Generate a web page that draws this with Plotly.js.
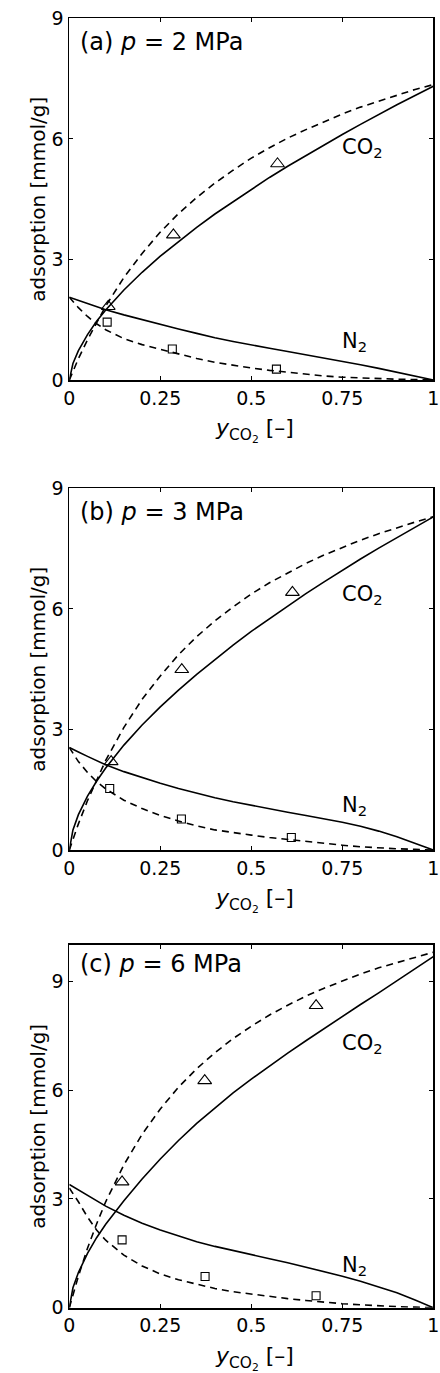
<!DOCTYPE html>
<html>
<head>
<meta charset="utf-8">
<script src="https://cdn.plot.ly/plotly-3.0.1.min.js"></script>
<style>html,body{margin:0;padding:0;background:#fff;}#chart{width:440px;height:1373px;}</style>
</head>
<body>
<div id="chart"></div>
<script>
// CO2 mole fraction grid for model curves
const yCO2 = [0, 0.01, 0.025, 0.05, 0.075, 0.1, 0.15, 0.2, 0.25, 0.3, 0.35, 0.4, 0.45, 0.5, 0.55, 0.6, 0.65, 0.7, 0.75, 0.8, 0.85, 0.9, 0.95, 1];

// Panel (a) p = 2 MPa
const co2SolidA = [0, 0.41, 0.73, 1.13, 1.46, 1.74, 2.24, 2.68, 3.08, 3.45, 3.80, 4.13, 4.44, 4.75, 5.04, 5.32, 5.59, 5.85, 6.11, 6.36, 6.61, 6.85, 7.08, 7.31];
const co2DashA  = [0, 0.22, 0.53, 1.00, 1.44, 1.84, 2.55, 3.15, 3.68, 4.14, 4.54, 4.90, 5.22, 5.52, 5.78, 6.02, 6.23, 6.43, 6.62, 6.79, 6.94, 7.09, 7.23, 7.35];
const n2SolidA  = [2.06, 2.03, 1.98, 1.90, 1.82, 1.75, 1.62, 1.50, 1.38, 1.27, 1.16, 1.05, 0.96, 0.87, 0.79, 0.71, 0.63, 0.55, 0.47, 0.38, 0.29, 0.195, 0.10, 0];
const n2DashA   = [2.06, 1.95, 1.80, 1.58, 1.40, 1.25, 1.03, 0.88, 0.76, 0.64, 0.535, 0.44, 0.365, 0.30, 0.24, 0.19, 0.145, 0.10, 0.07, 0.05, 0.035, 0.02, 0.01, 0];
const expCO2xA = [0.107, 0.286, 0.572], expCO2yA = [1.83, 3.61, 5.38];
const expN2xA  = [0.104, 0.283, 0.569], expN2yA  = [1.44, 0.77, 0.27];

// Panel (b) p = 3 MPa
const co2SolidB = [0, 0.50, 0.88, 1.34, 1.71, 2.04, 2.61, 3.11, 3.56, 3.98, 4.37, 4.74, 5.10, 5.44, 5.76, 6.07, 6.38, 6.67, 6.96, 7.24, 7.51, 7.77, 8.04, 8.29];
const co2DashB  = [0, 0.27, 0.65, 1.23, 1.75, 2.23, 3.05, 3.75, 4.33, 4.86, 5.31, 5.70, 6.05, 6.37, 6.65, 6.90, 7.13, 7.34, 7.53, 7.71, 7.87, 8.02, 8.16, 8.29];
const n2SolidB  = [2.55, 2.50, 2.44, 2.33, 2.22, 2.12, 1.95, 1.80, 1.66, 1.53, 1.41, 1.30, 1.20, 1.11, 1.02, 0.94, 0.86, 0.78, 0.69, 0.59, 0.47, 0.33, 0.17, 0];
const n2DashB   = [2.55, 2.40, 2.20, 1.93, 1.70, 1.52, 1.24, 1.03, 0.86, 0.72, 0.60, 0.50, 0.43, 0.37, 0.31, 0.26, 0.21, 0.16, 0.12, 0.08, 0.05, 0.03, 0.015, 0];
const expCO2xB = [0.115, 0.309, 0.613], expCO2yB = [2.20, 4.49, 6.41];
const expN2xB  = [0.111, 0.308, 0.610], expN2yB  = [1.53, 0.77, 0.31];

// Panel (c) p = 6 MPa
const co2SolidC = [0, 0.55, 0.97, 1.50, 1.93, 2.30, 2.95, 3.55, 4.10, 4.61, 5.08, 5.51, 5.92, 6.30, 6.67, 7.02, 7.36, 7.70, 8.03, 8.36, 8.68, 9.01, 9.35, 9.68];
const co2DashC  = [0, 0.36, 0.87, 1.64, 2.31, 2.92, 3.94, 4.78, 5.48, 6.08, 6.59, 7.03, 7.42, 7.76, 8.07, 8.34, 8.59, 8.81, 9.01, 9.20, 9.37, 9.52, 9.67, 9.80];
const n2SolidC  = [3.40, 3.34, 3.24, 3.08, 2.94, 2.80, 2.55, 2.33, 2.14, 1.97, 1.82, 1.69, 1.57, 1.46, 1.35, 1.24, 1.12, 1.00, 0.87, 0.73, 0.58, 0.41, 0.21, 0];
const n2DashC   = [3.30, 3.15, 2.92, 2.50, 2.14, 1.86, 1.45, 1.15, 0.93, 0.77, 0.64, 0.53, 0.44, 0.37, 0.30, 0.25, 0.20, 0.15, 0.11, 0.08, 0.05, 0.03, 0.015, 0];
const expCO2xC = [0.145, 0.372, 0.678], expCO2yC = [3.47, 6.26, 8.33];
const expN2xC  = [0.145, 0.373, 0.678], expN2yC  = [1.87, 0.86, 0.33];

// Tick labels and panel texts
const xTickVals = [0, 0.25, 0.5, 0.75, 1];
const xTickText = ['0', '0.25', '0.5', '0.75', '1'];
const yTickVals = [0, 3, 6, 9];
const yTickText = ['0', '3', '6', '9'];
const panelTags = ['(a)', '(b)', '(c)'];
const pressures = ['2', '3', '6'];
const yMax = [9, 9, 10];

const FONT = 'DejaVu Sans, Liberation Sans, Arial, sans-serif';
const W = 440, H = 1373;
const plotLeft = 69.3, plotRight = 433.3;
const panelTop = [18.3, 488.3, 945];
const panelBottom = [380, 850, 1307.7];

const panels = [
  {cs: co2SolidA, cd: co2DashA, ns: n2SolidA, nd: n2DashA, tx: expCO2xA, ty: expCO2yA, sx: expN2xA, sy: expN2yA, co2LabY: 5.77, n2LabY: 0.95, titleY: 8.42},
  {cs: co2SolidB, cd: co2DashB, ns: n2SolidB, nd: n2DashB, tx: expCO2xB, ty: expCO2yB, sx: expN2xB, sy: expN2yB, co2LabY: 6.34, n2LabY: 1.09, titleY: 8.42},
  {cs: co2SolidC, cd: co2DashC, ns: n2SolidC, nd: n2DashC, tx: expCO2xC, ty: expCO2yC, sx: expN2xC, sy: expN2yC, co2LabY: 7.26, n2LabY: 1.14, titleY: 9.49}
];

const traces = [];
const layout = {
  width: W, height: H,
  margin: {l: 0, r: 0, t: 0, b: 0},
  paper_bgcolor: '#ffffff', plot_bgcolor: '#ffffff',
  showlegend: false,
  font: {family: FONT, color: '#000000', size: 19},
  annotations: []
};

panels.forEach((p, i) => {
  const n = i === 0 ? '' : String(i + 1);
  const xa = 'x' + n, ya = 'y' + n;
  const solid = {color: '#000000', width: 1.6};
  const dashed = {color: '#000000', width: 1.6, dash: '7px,5px'};
  traces.push({x: yCO2, y: p.cs, xaxis: xa, yaxis: ya, mode: 'lines', line: solid, hoverinfo: 'skip'});
  traces.push({x: yCO2, y: p.cd, xaxis: xa, yaxis: ya, mode: 'lines', line: dashed, hoverinfo: 'skip'});
  traces.push({x: yCO2, y: p.ns, xaxis: xa, yaxis: ya, mode: 'lines', line: solid, hoverinfo: 'skip'});
  traces.push({x: yCO2, y: p.nd, xaxis: xa, yaxis: ya, mode: 'lines', line: dashed, hoverinfo: 'skip'});
  traces.push({x: p.tx, y: p.ty, xaxis: xa, yaxis: ya, mode: 'markers', cliponaxis: false,
    marker: {symbol: 'triangle-up-open', size: 12, color: '#000000', line: {width: 1.1, color: '#000000'}}});
  traces.push({x: p.sx, y: p.sy, xaxis: xa, yaxis: ya, mode: 'markers', cliponaxis: false,
    marker: {symbol: 'square-open', size: 8, color: '#000000', line: {width: 1.1, color: '#000000'}}});

  const yd = [1 - panelBottom[i] / H, 1 - panelTop[i] / H];
  layout['xaxis' + n] = {
    domain: [plotLeft / W, plotRight / W], range: [0, 1], anchor: ya,
    tickvals: xTickVals, ticktext: xTickText,
    ticks: 'inside', ticklen: 4, tickwidth: 1, tickcolor: '#000000',
    showline: true, linecolor: '#000000', linewidth: 1.8, mirror: 'ticks',
    showgrid: false, zeroline: false, fixedrange: true, ticklabelstandoff: 0,
    tickfont: {family: FONT, size: 19, color: '#000000'}
  };
  layout['yaxis' + n] = {
    domain: yd, range: [0, yMax[i]], anchor: xa,
    tickvals: yTickVals, ticktext: yTickText,
    ticks: 'inside', ticklen: 4, tickwidth: 1, tickcolor: '#000000',
    showline: true, linecolor: '#000000', linewidth: 1.8, mirror: 'ticks',
    showgrid: false, zeroline: false, fixedrange: true, ticklabelstandoff: 0,
    tickfont: {family: FONT, size: 19, color: '#000000'}
  };

  // panel title
  layout.annotations.push({xref: xa, yref: ya, x: 0.025, y: p.titleY, xanchor: 'left', yanchor: 'middle', showarrow: false,
    text: panelTags[i] + ' <i>p</i> = ' + pressures[i] + ' MPa', font: {family: FONT, size: 24, color: '#000000'}});
  // species labels
  layout.annotations.push({xref: xa, yref: ya, x: 0.745, y: p.co2LabY, xanchor: 'left', yanchor: 'middle', showarrow: false,
    text: 'CO<sub>2</sub>', font: {family: FONT, size: 21, color: '#000000'}});
  layout.annotations.push({xref: xa, yref: ya, x: 0.745, y: p.n2LabY, xanchor: 'left', yanchor: 'middle', showarrow: false,
    text: 'N<sub>2</sub>', font: {family: FONT, size: 21, color: '#000000'}});
  // y-axis title
  const yMid = (panelTop[i] + panelBottom[i]) / 2;
  layout.annotations.push({xref: 'paper', yref: 'paper', x: 38.5 / W, y: 1 - yMid / H, xanchor: 'center', yanchor: 'middle',
    textangle: -90, showarrow: false, text: 'adsorption [mmol/g]', font: {family: FONT, size: 20, color: '#000000'}});
  // x-axis title
  layout.annotations.push({xref: 'paper', yref: 'paper', x: 254 / W, y: 1 - (panelBottom[i] + 33) / H, xanchor: 'center', yanchor: 'top',
    showarrow: false, text: '<i>y</i><sub>CO<sub>2</sub></sub> [–]', font: {family: FONT, size: 22, color: '#000000'}});
});

Plotly.newPlot('chart', traces, layout, {staticPlot: true, displayModeBar: false});
</script>
</body>
</html>
